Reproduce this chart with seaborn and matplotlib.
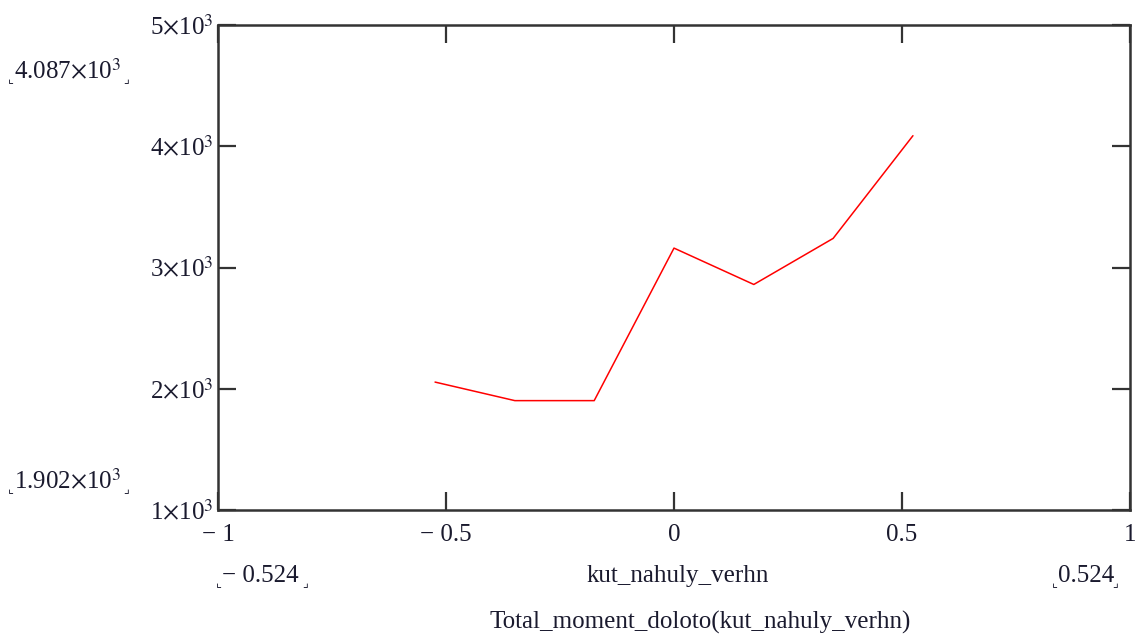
# -*- coding: utf-8 -*-

"""
Total moment on the bit as a function of the upper tilt angle (Mathcad style plot).
"""

import numpy as np
import pandas as pd
import matplotlib
matplotlib.use("Agg")
import matplotlib.pyplot as plt
import seaborn as sns

# Data.
kut_nahuly_verhn = [-0.524, -0.349, -0.175, 0.0, 0.175, 0.349, 0.524]
total_moment = [2055, 1902, 1902, 3160, 2860, 3240, 4087]

x_ticks = [-1, -0.5, 0, 0.5, 1]
x_tick_labels = ["\u2212 1", "\u2212 0.5", "0", "0.5", "1"]
y_ticks = [1000, 2000, 3000, 4000, 5000]
y_tick_labels = [r"1$\times$10$^{3}$", r"2$\times$10$^{3}$", r"3$\times$10$^{3}$",
                 r"4$\times$10$^{3}$", r"5$\times$10$^{3}$"]

df = pd.DataFrame({"x": kut_nahuly_verhn, "y": total_moment})

# Style.
sns.set_style("white")
plt.rcParams["font.family"] = ["Liberation Serif", "DejaVu Serif", "DejaVu Sans"]
plt.rcParams["mathtext.fontset"] = "stix"

text_color = "#1a1a2e"
fs = 18

# Initialize the figure.
f = plt.figure(figsize=(11.45, 6.41), dpi=100)
ax = f.add_axes([218 / 1145, 1 - 510 / 641, (1130 - 218) / 1145, (510 - 25) / 641])

# Plot.
sns.lineplot(data=df, x="x", y="y", color="red", linewidth=1.1, ax=ax)

# Axis limits.
ax.set_xlim(-1, 1)
ax.set_ylim(1000, 5000)

# Ticks: inward on every side.
ax.set_xticks(x_ticks)
ax.set_xticklabels(x_tick_labels, fontsize=fs, color=text_color)
ax.set_yticks(y_ticks)
ax.set_yticklabels(y_tick_labels, fontsize=fs, color=text_color)
ax.tick_params(axis="both", which="both", direction="in", length=13, width=1.6,
               color="#333333", top=True, right=True, bottom=True, left=True,
               labeltop=False, labelright=False)
ax.tick_params(axis="x", pad=10)
ax.tick_params(axis="y", pad=3)

for spine in ax.spines.values():
    spine.set_visible(True)
    spine.set_color("#333333")
    spine.set_linewidth(1.8)

ax.set_xlabel("")
ax.set_ylabel("")

# Mathcad range markers and labels.
def mark(x, y, s, ha="left"):
    f.text(x / 1145, 1 - y / 641, s, fontsize=fs, color=text_color,
           ha=ha, va="center")

def corner(x, y, s):
    f.text(x / 1145, 1 - y / 641, s, fontsize=9, color=text_color,
           ha="center", va="center", family=["DejaVu Sans"])

mark(14, 72, r"4.087$\times$10$^{3}$")
corner(11, 80, "\u231e")
corner(126, 80, "\u231f")

mark(14, 482, r"1.902$\times$10$^{3}$")
corner(11, 490, "\u231e")
corner(126, 490, "\u231f")

mark(222, 576, "\u2212 0.524")
corner(219, 584, "\u231e")
corner(305, 584, "\u231f")

mark(1058, 576, "0.524")
corner(1055, 584, "\u231e")
corner(1115, 584, "\u231f")

mark(678, 576, "kut_nahuly_verhn", ha="center")
mark(700, 622, "Total_moment_doloto(kut_nahuly_verhn)", ha="center")

# Save the figure.
plt.savefig("out.png", dpi=100)
